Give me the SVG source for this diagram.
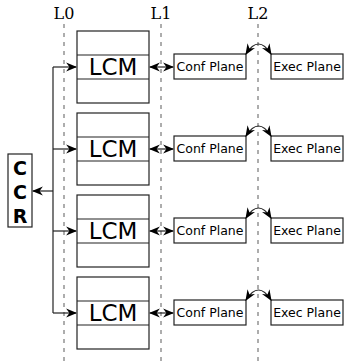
<svg xmlns="http://www.w3.org/2000/svg" width="344" height="364" viewBox="0 0 344 364">
<style>
.box{fill:#fff;stroke:#222;stroke-width:1.2}
.dash{stroke:#777;stroke-width:1.2;stroke-dasharray:4,5;fill:none}
.ln{stroke:#222;stroke-width:1.2;fill:none}
.lcm{font-family:"DejaVu Sans",sans-serif;font-size:23px;fill:#000;text-anchor:middle}
.pl{font-family:"DejaVu Sans",sans-serif;font-size:12.5px;fill:#000;text-anchor:middle}
.lv{font-family:"DejaVu Serif",serif;font-size:16px;fill:#000;text-anchor:middle}
.ccr{font-family:"DejaVu Sans",sans-serif;font-size:19px;font-weight:bold;fill:#000;text-anchor:middle}
</style>
<defs>
<marker id="ah" viewBox="0 0 10 10" refX="9" refY="5" markerWidth="11" markerHeight="11" markerUnits="userSpaceOnUse" orient="auto-start-reverse">
<path d="M0,1 L10,5 L0,9 L3,5 Z" fill="#000"/>
</marker>
</defs>
<g id="levels">
<line class="dash" x1="64" y1="24" x2="64" y2="364"/>
<line class="dash" x1="161" y1="24" x2="161" y2="364"/>
<line class="dash" x1="258" y1="24" x2="258" y2="364"/>
<text class="lv" x="64" y="19">L0</text>
<text class="lv" x="161" y="19">L1</text>
<text class="lv" x="258" y="19">L2</text>
</g>
<g id="ccr">
<rect class="box" x="8" y="154" width="24" height="73"/>
<text class="ccr" x="20" y="175">C</text>
<text class="ccr" x="20" y="199">C</text>
<text class="ccr" x="20" y="223">R</text>
</g>
<g id="lcm1">
<rect class="box" x="77" y="31" width="72" height="72"/>
<line class="ln" x1="77" y1="55" x2="149" y2="55"/><line class="ln" x1="77" y1="79" x2="149" y2="79"/>
<text class="lcm" x="113" y="75">LCM</text>
</g>
<g id="lcm2">
<rect class="box" x="77" y="113" width="72" height="72"/>
<line class="ln" x1="77" y1="137" x2="149" y2="137"/><line class="ln" x1="77" y1="161" x2="149" y2="161"/>
<text class="lcm" x="113" y="157">LCM</text>
</g>
<g id="lcm3">
<rect class="box" x="77" y="195" width="72" height="72"/>
<line class="ln" x1="77" y1="219" x2="149" y2="219"/><line class="ln" x1="77" y1="243" x2="149" y2="243"/>
<text class="lcm" x="113" y="239">LCM</text>
</g>
<g id="lcm4">
<rect class="box" x="77" y="277" width="72" height="72"/>
<line class="ln" x1="77" y1="301" x2="149" y2="301"/><line class="ln" x1="77" y1="325" x2="149" y2="325"/>
<text class="lcm" x="113" y="321">LCM</text>
</g>
<g id="conf1"><rect class="box" x="174" y="54" width="72" height="25"/><text class="pl" x="210" y="71">Conf Plane</text></g>
<g id="exec1"><rect class="box" x="271" y="54" width="72" height="25"/><text class="pl" x="307" y="71">Exec Plane</text></g>
<g id="conf2"><rect class="box" x="174" y="136" width="72" height="25"/><text class="pl" x="210" y="153">Conf Plane</text></g>
<g id="exec2"><rect class="box" x="271" y="136" width="72" height="25"/><text class="pl" x="307" y="153">Exec Plane</text></g>
<g id="conf3"><rect class="box" x="174" y="218" width="72" height="25"/><text class="pl" x="210" y="235">Conf Plane</text></g>
<g id="exec3"><rect class="box" x="271" y="218" width="72" height="25"/><text class="pl" x="307" y="235">Exec Plane</text></g>
<g id="conf4"><rect class="box" x="174" y="300" width="72" height="25"/><text class="pl" x="210" y="317">Conf Plane</text></g>
<g id="exec4"><rect class="box" x="271" y="300" width="72" height="25"/><text class="pl" x="307" y="317">Exec Plane</text></g>
<g id="connectors">
<polyline class="ln" points="53,67 53,313"/>
<line class="ln" x1="53" y1="191" x2="33" y2="191" marker-end="url(#ah)"/>
<line class="ln" x1="53" y1="67" x2="76" y2="67" marker-end="url(#ah)"/>
<line class="ln" x1="53" y1="149" x2="76" y2="149" marker-end="url(#ah)"/>
<line class="ln" x1="53" y1="231" x2="76" y2="231" marker-end="url(#ah)"/>
<line class="ln" x1="53" y1="313" x2="76" y2="313" marker-end="url(#ah)"/>
<line class="ln" x1="150" y1="67" x2="173" y2="67" marker-start="url(#ah)" marker-end="url(#ah)"/>
<line class="ln" x1="150" y1="149" x2="173" y2="149" marker-start="url(#ah)" marker-end="url(#ah)"/>
<line class="ln" x1="150" y1="231" x2="173" y2="231" marker-start="url(#ah)" marker-end="url(#ah)"/>
<line class="ln" x1="150" y1="313" x2="173" y2="313" marker-start="url(#ah)" marker-end="url(#ah)"/>
<path class="ln" d="M246,54 Q258.5,34 271,54" marker-start="url(#ah)" marker-end="url(#ah)"/>
<path class="ln" d="M246,136 Q258.5,116 271,136" marker-start="url(#ah)" marker-end="url(#ah)"/>
<path class="ln" d="M246,218 Q258.5,198 271,218" marker-start="url(#ah)" marker-end="url(#ah)"/>
<path class="ln" d="M246,300 Q258.5,280 271,300" marker-start="url(#ah)" marker-end="url(#ah)"/>
</g>
</svg>
